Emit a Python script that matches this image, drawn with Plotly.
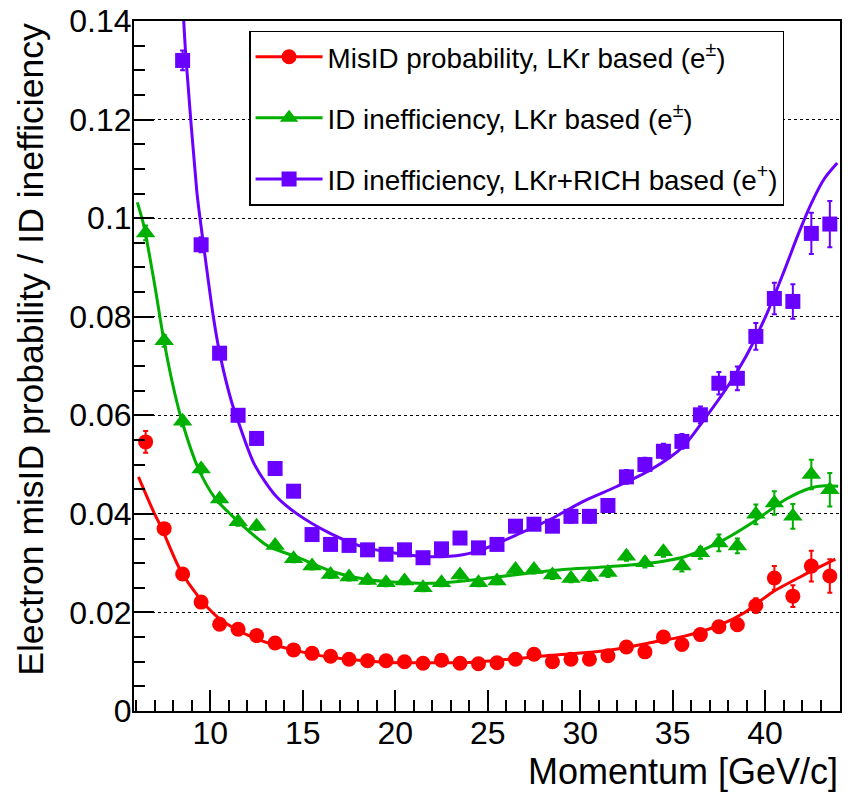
import plotly.graph_objects as go

# ---- data ----
p_all = [6.5, 7.5, 8.5, 9.5, 10.5, 11.5, 12.5, 13.5, 14.5, 15.5, 16.5, 17.5, 18.5, 19.5,
         20.5, 21.5, 22.5, 23.5, 24.5, 25.5, 26.5, 27.5, 28.5, 29.5, 30.5, 31.5, 32.5,
         33.5, 34.5, 35.5, 36.5, 37.5, 38.5, 39.5, 40.5, 41.5, 42.5, 43.5]

misid_lkr = [0.0546, 0.0370, 0.0278, 0.0221, 0.0176, 0.0166, 0.0153, 0.0138, 0.0124, 0.0117,
             0.0111, 0.0105, 0.0102, 0.0102, 0.0100, 0.0097, 0.0103, 0.0097, 0.0096, 0.0098,
             0.0105, 0.0115, 0.0100, 0.0105, 0.0105, 0.0112, 0.0130, 0.0120, 0.0150, 0.0135,
             0.0155, 0.0171, 0.0175, 0.0214, 0.0270, 0.0233, 0.0294, 0.0274]
misid_lkr_err = [0.0022, 0.0010, 0.0008, 0.0007, 0.0006, 0.0005, 0.0005, 0.0005, 0.0005, 0.0005,
                 0.0005, 0.0005, 0.0005, 0.0005, 0.0005, 0.0005, 0.0005, 0.0005, 0.0005, 0.0005,
                 0.0005, 0.0006, 0.0006, 0.0006, 0.0006, 0.0007, 0.0008, 0.0008, 0.0009, 0.0009,
                 0.0010, 0.0011, 0.0012, 0.0015, 0.0024, 0.0022, 0.0031, 0.0034]

ineff_lkr = [0.0970, 0.0751, 0.0588, 0.0491, 0.0430, 0.0384, 0.0375, 0.0336, 0.0309, 0.0294,
             0.0277, 0.0272, 0.0265, 0.0260, 0.0264, 0.0250, 0.0260, 0.0276, 0.0260, 0.0264,
             0.0287, 0.0287, 0.0276, 0.0269, 0.0272, 0.0281, 0.0314, 0.0301, 0.0323, 0.0294,
             0.0321, 0.0341, 0.0335, 0.0399, 0.0422, 0.0395, 0.0480, 0.0449]
ineff_lkr_err = [0.0015, 0.0012, 0.0010, 0.0009, 0.0008, 0.0008, 0.0008, 0.0007, 0.0007, 0.0007,
                 0.0007, 0.0007, 0.0007, 0.0007, 0.0007, 0.0007, 0.0007, 0.0007, 0.0007, 0.0007,
                 0.0008, 0.0008, 0.0008, 0.0008, 0.0008, 0.0009, 0.0009, 0.0010, 0.0010, 0.0011,
                 0.0012, 0.0017, 0.0015, 0.0020, 0.0024, 0.0025, 0.0030, 0.0034]

p_rich = p_all[2:]
ineff_rich = [0.1320, 0.0946, 0.0726, 0.0600, 0.0553, 0.0492, 0.0446, 0.0358, 0.0338, 0.0336,
              0.0327, 0.0318, 0.0327, 0.0311, 0.0329, 0.0351, 0.0331, 0.0338, 0.0375, 0.0379,
              0.0375, 0.0395, 0.0395, 0.0417, 0.0475, 0.0500, 0.0527, 0.0547, 0.0601, 0.0665,
              0.0675, 0.0760, 0.0837, 0.0831, 0.0969, 0.0988]
ineff_rich_err = [0.0020, 0.0015, 0.0012, 0.0011, 0.0011, 0.0010, 0.0010, 0.0010, 0.0010, 0.0010,
                  0.0010, 0.0010, 0.0010, 0.0010, 0.0010, 0.0011, 0.0011, 0.0011, 0.0012, 0.0012,
                  0.0012, 0.0013, 0.0013, 0.0013, 0.0014, 0.0014, 0.0015, 0.0015, 0.0017, 0.0023,
                  0.0024, 0.0027, 0.0032, 0.0035, 0.0042, 0.0047]

# fitted curves
fit_red_x = [6.11, 6.92, 7.4, 8.36, 9.35, 10.34, 11.33, 12.4, 13.3, 14.7, 16.5, 18.3, 20.1,
             21.9, 23.7, 24.8, 26.6, 28.4, 30.2, 32.0, 33.85, 35.65, 37.45, 38.9, 40.35,
             42.0, 43.8]
fit_red_y = [0.0475, 0.0405, 0.0368, 0.0287, 0.0232, 0.0192, 0.0167, 0.0148, 0.0136, 0.0122,
             0.0109, 0.0102, 0.0098, 0.0098, 0.0098, 0.0101, 0.0106, 0.0113, 0.0118, 0.0126,
             0.0139, 0.0152, 0.0173, 0.0200, 0.0240, 0.0274, 0.0308]

fit_green_x = [6.05, 6.4, 7.0, 7.45, 7.95, 8.45, 9.35, 10.25, 11.15, 12.05, 13.1, 14.7, 16.5,
               18.3, 20.1, 21.9, 23.7, 25.5, 27.3, 29.1, 30.9, 32.7, 34.5, 35.65, 37.45,
               39.3, 41.1, 42.5, 43.2, 43.95]
fit_green_y = [0.1032, 0.0985, 0.0862, 0.0760, 0.0665, 0.0590, 0.0492, 0.0432, 0.0397, 0.0366,
               0.0335, 0.0312, 0.0284, 0.0268, 0.0261, 0.0259, 0.0264, 0.0272, 0.0280, 0.0287,
               0.0291, 0.0296, 0.0304, 0.0313, 0.0341, 0.0382, 0.0429, 0.0453, 0.0457, 0.0456]

fit_violet_x = [8.4, 8.55, 8.68, 9.26, 9.44, 9.71, 10.16, 10.52, 11.15, 11.51, 12.39, 13.57,
                14.65, 16.45, 18.25, 20.05, 21.85, 23.65, 24.74, 26.54, 28.34, 30.14, 31.95,
                33.79, 35.55, 36.81, 38.0, 39.0, 40.0, 41.0, 41.8, 42.5, 43.2, 43.9]
fit_violet_y = [0.1500, 0.1405, 0.1325, 0.1057, 0.1000, 0.0923, 0.0800, 0.0723, 0.0627, 0.0587,
                0.0500, 0.0435, 0.0401, 0.0361, 0.0333, 0.0320, 0.0313, 0.0317, 0.0328, 0.0357,
                0.0388, 0.0425, 0.0455, 0.0489, 0.0536, 0.0597, 0.0660, 0.0722, 0.0798, 0.0890,
                0.0968, 0.1030, 0.1080, 0.1112]

y_tickvals = [0, 0.02, 0.04, 0.06, 0.08, 0.1, 0.12, 0.14]
y_ticktext = ["0", "0.02", "0.04", "0.06", "0.08", "0.1", "0.12", "0.14"]

names = ["MisID probability, LKr based (e<sup>\u00b1</sup>)",
         "ID inefficiency, LKr based (e<sup>\u00b1</sup>)",
         "ID inefficiency, LKr+RICH based (e<sup>+</sup>)"]

RED, GREEN, VIOLET = "#ff0000", "#00b000", "#6a00ff"
FONT = "Liberation Sans, Arial, Helvetica, sans-serif"

fig = go.Figure()

series = [
    (p_all, misid_lkr, misid_lkr_err, fit_red_x, fit_red_y, RED, "circle", 15),
    (p_all, ineff_lkr, ineff_lkr_err, fit_green_x, fit_green_y, GREEN, "triangle-up", 17),
    (p_rich, ineff_rich, ineff_rich_err, fit_violet_x, fit_violet_y, VIOLET, "square", 15),
]

for i, (xs, ys, es, fx, fy, col, sym, sz) in enumerate(series):
    fig.add_trace(go.Scatter(
        x=xs, y=ys, mode="markers", showlegend=False,
        marker=dict(color=col, symbol=sym, size=sz, line=dict(width=0)),
        error_y=dict(type="data", array=es, visible=True, color=col, thickness=2, width=2.5),
    ))
    fig.add_trace(go.Scatter(
        x=fx, y=fy, mode="lines", showlegend=False,
        line=dict(color=col, width=3, shape="spline", smoothing=0.8),
    ))

# legend entries (line + marker, ROOT "lp" style)
for i, (xs, ys, es, fx, fy, col, sym, sz) in enumerate(series):
    fig.add_trace(go.Scatter(
        x=[None], y=[None], mode="lines+markers", name=names[i],
        legendgroup=f"g{i}",
        line=dict(color=col, width=3),
        marker=dict(color=col, symbol=sym, size=sz),
    ))

fig.update_layout(
    width=866, height=793,
    margin=dict(l=134, r=26, t=21, b=82, autoexpand=False),
    paper_bgcolor="white", plot_bgcolor="white",
    font=dict(family=FONT, color="black", size=32),
    legend=dict(
        x=0.163, y=0.986, xanchor="left", yanchor="top",
        bgcolor="white", bordercolor="black", borderwidth=1.5,
        font=dict(family=FONT, size=27.8, color="black"),
        itemwidth=67, tracegroupgap=22, traceorder="grouped",
        valign="middle",
    ),
    xaxis=dict(
        range=[5.87, 44.05], tick0=0, dtick=5, ticks="inside", ticklen=21, tickwidth=1.5,
        tickcolor="black", showline=True, mirror=True, linecolor="black", linewidth=2,
        showgrid=False, zeroline=False, tickfont=dict(size=32), automargin=False,
        ticklabelstandoff=-7,
        minor=dict(dtick=1, tick0=0, ticks="inside", ticklen=11, tickwidth=1.5,
                   tickcolor="black", showgrid=False),
    ),
    yaxis=dict(
        range=[0, 0.14], tickvals=y_tickvals, ticktext=y_ticktext, ticks="inside",
        ticklen=20, tickwidth=1.5, tickcolor="black", showline=True, mirror=True,
        linecolor="black", linewidth=2, showgrid=True, gridcolor="black", gridwidth=1,
        griddash="dot", zeroline=False, tickfont=dict(size=32), automargin=False,
        ticklabelstandoff=-6,
        minor=dict(dtick=0.005, tick0=0, ticks="inside", ticklen=11, tickwidth=1.5,
                   tickcolor="black", showgrid=False),
    ),
    annotations=[
        dict(text="Momentum [GeV/c]", xref="paper", yref="paper", x=1.0, y=-0.087,
             xanchor="right", yanchor="middle", showarrow=False,
             font=dict(family=FONT, size=36, color="black")),
        dict(text="Electron misID probability / ID inefficiency", xref="paper", yref="paper",
             x=-0.147, y=1.0, xanchor="center", yanchor="top", textangle=-90,
             showarrow=False, font=dict(family=FONT, size=35.5, color="black")),
    ],
)

fig.write_html("out.html", config={"displayModeBar": False},
               post_script="document.body.style.margin='0';document.body.style.padding='0';")
